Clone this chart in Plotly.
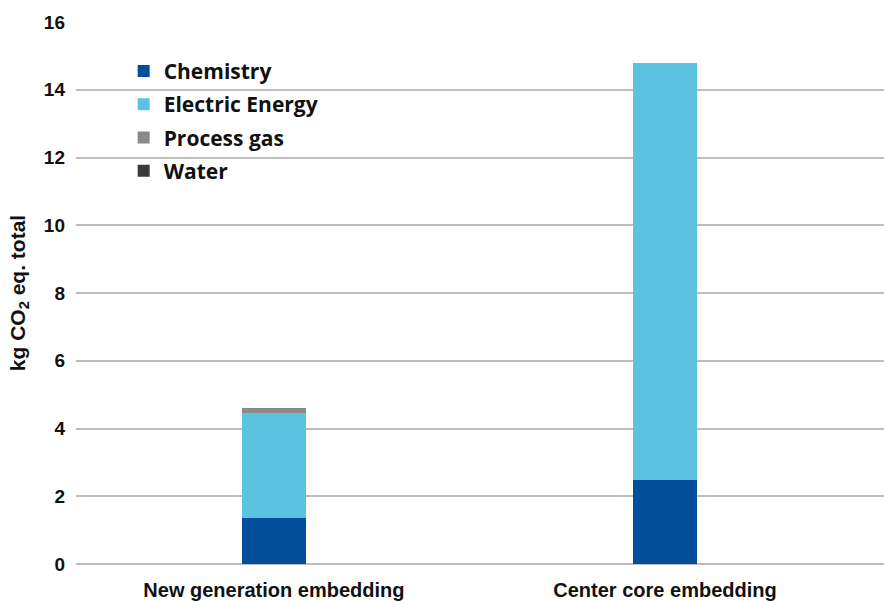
import plotly.graph_objects as go

# Carbon footprint per process variant, kg CO2 eq.
categories = ["New generation embedding", "Center core embedding"]
chemistry = [1.36, 2.49]
electric_energy = [3.10, 12.29]
process_gas = [0.14, 0.0]
water = [0.0, 0.0]

series = [
    ("Chemistry", chemistry, "#034E9A"),
    ("Electric Energy", electric_energy, "#5BC3DF"),
    ("Process gas", process_gas, "#8A8A8A"),
    ("Water", water, "#3A3A3A"),
]

fig = go.Figure()
for name, vals, color in series:
    fig.add_trace(go.Bar(
        x=categories, y=vals, name=name,
        legendgroup=name,
        marker=dict(color=color, line=dict(width=0)),
        width=0.164,
    ))

ytick_font = dict(family="Liberation Sans", size=19, color="#111111", weight="bold")
xtick_font = dict(family="Liberation Sans", size=20, color="#111111", weight="bold")

fig.update_layout(
    barmode="stack",
    width=884, height=601,
    margin=dict(l=76, r=0, t=22, b=37),
    plot_bgcolor="white",
    paper_bgcolor="white",
    showlegend=True,
    legend=dict(
        x=0.059, y=0.947, xanchor="left", yanchor="top",
        traceorder="grouped",
        font=dict(family="Open Sans", size=21, color="#111111", weight="bold"),
        bgcolor="rgba(0,0,0,0)",
        itemwidth=30,
        tracegroupgap=3,
    ),
    xaxis=dict(
        type="category",
        range=[-0.506, 1.560],
        showgrid=False,
        showline=False,
        ticks="",
        ticklabelstandoff=12,
        tickfont=xtick_font,
    ),
    yaxis=dict(
        range=[0, 16],
        dtick=2,
        showgrid=True,
        gridcolor="#BDBDBD",
        gridwidth=2,
        zeroline=True,
        zerolinecolor="#BDBDBD",
        zerolinewidth=2,
        showline=False,
        ticks="",
        ticklabelstandoff=10,
        tickfont=ytick_font,
        title=dict(
            text="kg CO<sub>2</sub> eq. total",
            font=dict(family="Liberation Sans", size=21, color="#111111", weight="bold"),
            standoff=12,
        ),
    ),
)

fig.write_html("out.html")
